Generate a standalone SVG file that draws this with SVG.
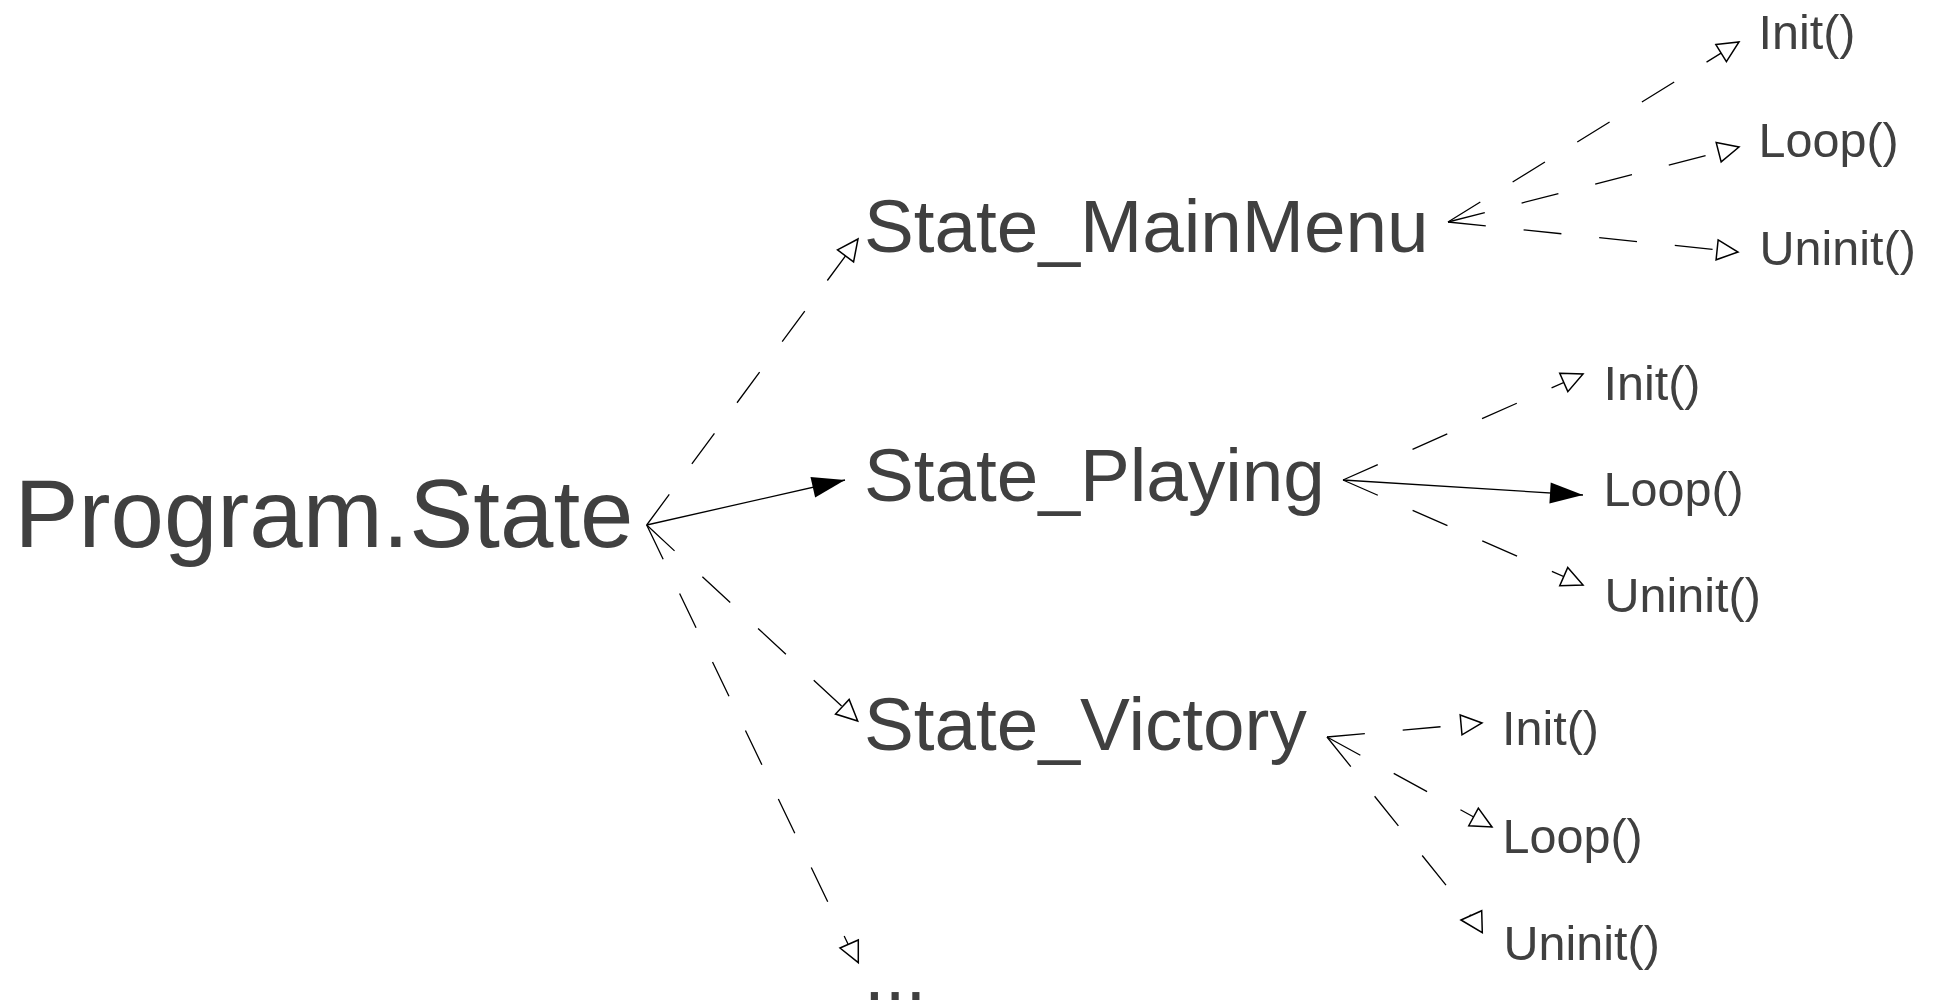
<svg xmlns="http://www.w3.org/2000/svg" width="1933" height="1001" viewBox="0 0 1933 1001">
<style>
text{font-family:"Liberation Sans",Arial,sans-serif;fill:#404040}
.big{font-size:96px}
.state{font-size:74.7px}
.fn{font-size:48.5px}
.c{fill:none;stroke:#000;stroke-width:1.3}
.d{stroke-dasharray:38 38}
.ah{fill:#fff;stroke:#000;stroke-width:1.5;stroke-linejoin:miter}
</style>
<defs>
<marker id="open" markerUnits="userSpaceOnUse" markerWidth="24" markerHeight="24" refX="21" refY="10" orient="auto" overflow="visible">
<path d="M0,0 L21,10 L0,20 Z" class="ah"/>
</marker>
<marker id="filled" markerUnits="userSpaceOnUse" markerWidth="36" markerHeight="24" refX="33" refY="10.5" orient="auto" overflow="visible">
<path d="M0,0 L33,10.5 L0,21 Z" fill="#000"/>
</marker>
</defs>
<rect width="1933" height="1001" fill="#fff"/>
<g id="connectors">
<line class="c d" x1="646.7" y1="525" x2="858" y2="239" marker-end="url(#open)"/>
<line class="c" x1="646.7" y1="525" x2="845" y2="480" marker-end="url(#filled)"/>
<line class="c d" x1="646.7" y1="525" x2="857.7" y2="721" marker-end="url(#open)"/>
<line class="c d" x1="646.7" y1="525" x2="848" y2="944"/>
<polygon class="ah" points="840,948 858.3,940 858.3,962.7"/>
<line class="c d" x1="1448" y1="222" x2="1739" y2="42" marker-end="url(#open)"/>
<line class="c d" x1="1448" y1="222" x2="1739" y2="147" marker-end="url(#open)"/>
<line class="c d" x1="1448" y1="222" x2="1738" y2="252" marker-end="url(#open)"/>
<line class="c d" x1="1343" y1="480" x2="1583" y2="374" marker-end="url(#open)"/>
<line class="c" x1="1343" y1="480" x2="1583" y2="495" marker-end="url(#filled)"/>
<line class="c d" x1="1343" y1="480" x2="1583" y2="585" marker-end="url(#open)"/>
<line class="c d" x1="1327" y1="737" x2="1482" y2="723" marker-end="url(#open)"/>
<line class="c d" x1="1327" y1="737" x2="1492" y2="827" marker-end="url(#open)"/>
<line class="c d" x1="1327" y1="737" x2="1478" y2="925"/>
<polygon class="ah" points="1461,920 1481.7,910.7 1482.3,932.7"/>
</g>
<g id="node-program-state"><text class="big" x="14.5" y="547">Program.State</text></g>
<g id="node-state-mainmenu"><text class="state" x="864" y="252">State_MainMenu</text></g>
<g id="node-state-playing"><text class="state" x="864" y="501">State_Playing</text></g>
<g id="node-state-victory"><text class="state" x="864" y="750">State_Victory</text></g>
<g id="node-more"><text class="state" x="864" y="1000">...</text></g>
<g id="node-mainmenu-init"><text class="fn" x="1758.5" y="49">Init()</text></g>
<g id="node-mainmenu-loop"><text class="fn" x="1758.5" y="157">Loop()</text></g>
<g id="node-mainmenu-uninit"><text class="fn" x="1759.5" y="265">Uninit()</text></g>
<g id="node-playing-init"><text class="fn" x="1603.5" y="400">Init()</text></g>
<g id="node-playing-loop"><text class="fn" x="1603.5" y="506">Loop()</text></g>
<g id="node-playing-uninit"><text class="fn" x="1604.5" y="612">Uninit()</text></g>
<g id="node-victory-init"><text class="fn" x="1502" y="745">Init()</text></g>
<g id="node-victory-loop"><text class="fn" x="1502.5" y="853">Loop()</text></g>
<g id="node-victory-uninit"><text class="fn" x="1503.5" y="960">Uninit()</text></g>
</svg>
